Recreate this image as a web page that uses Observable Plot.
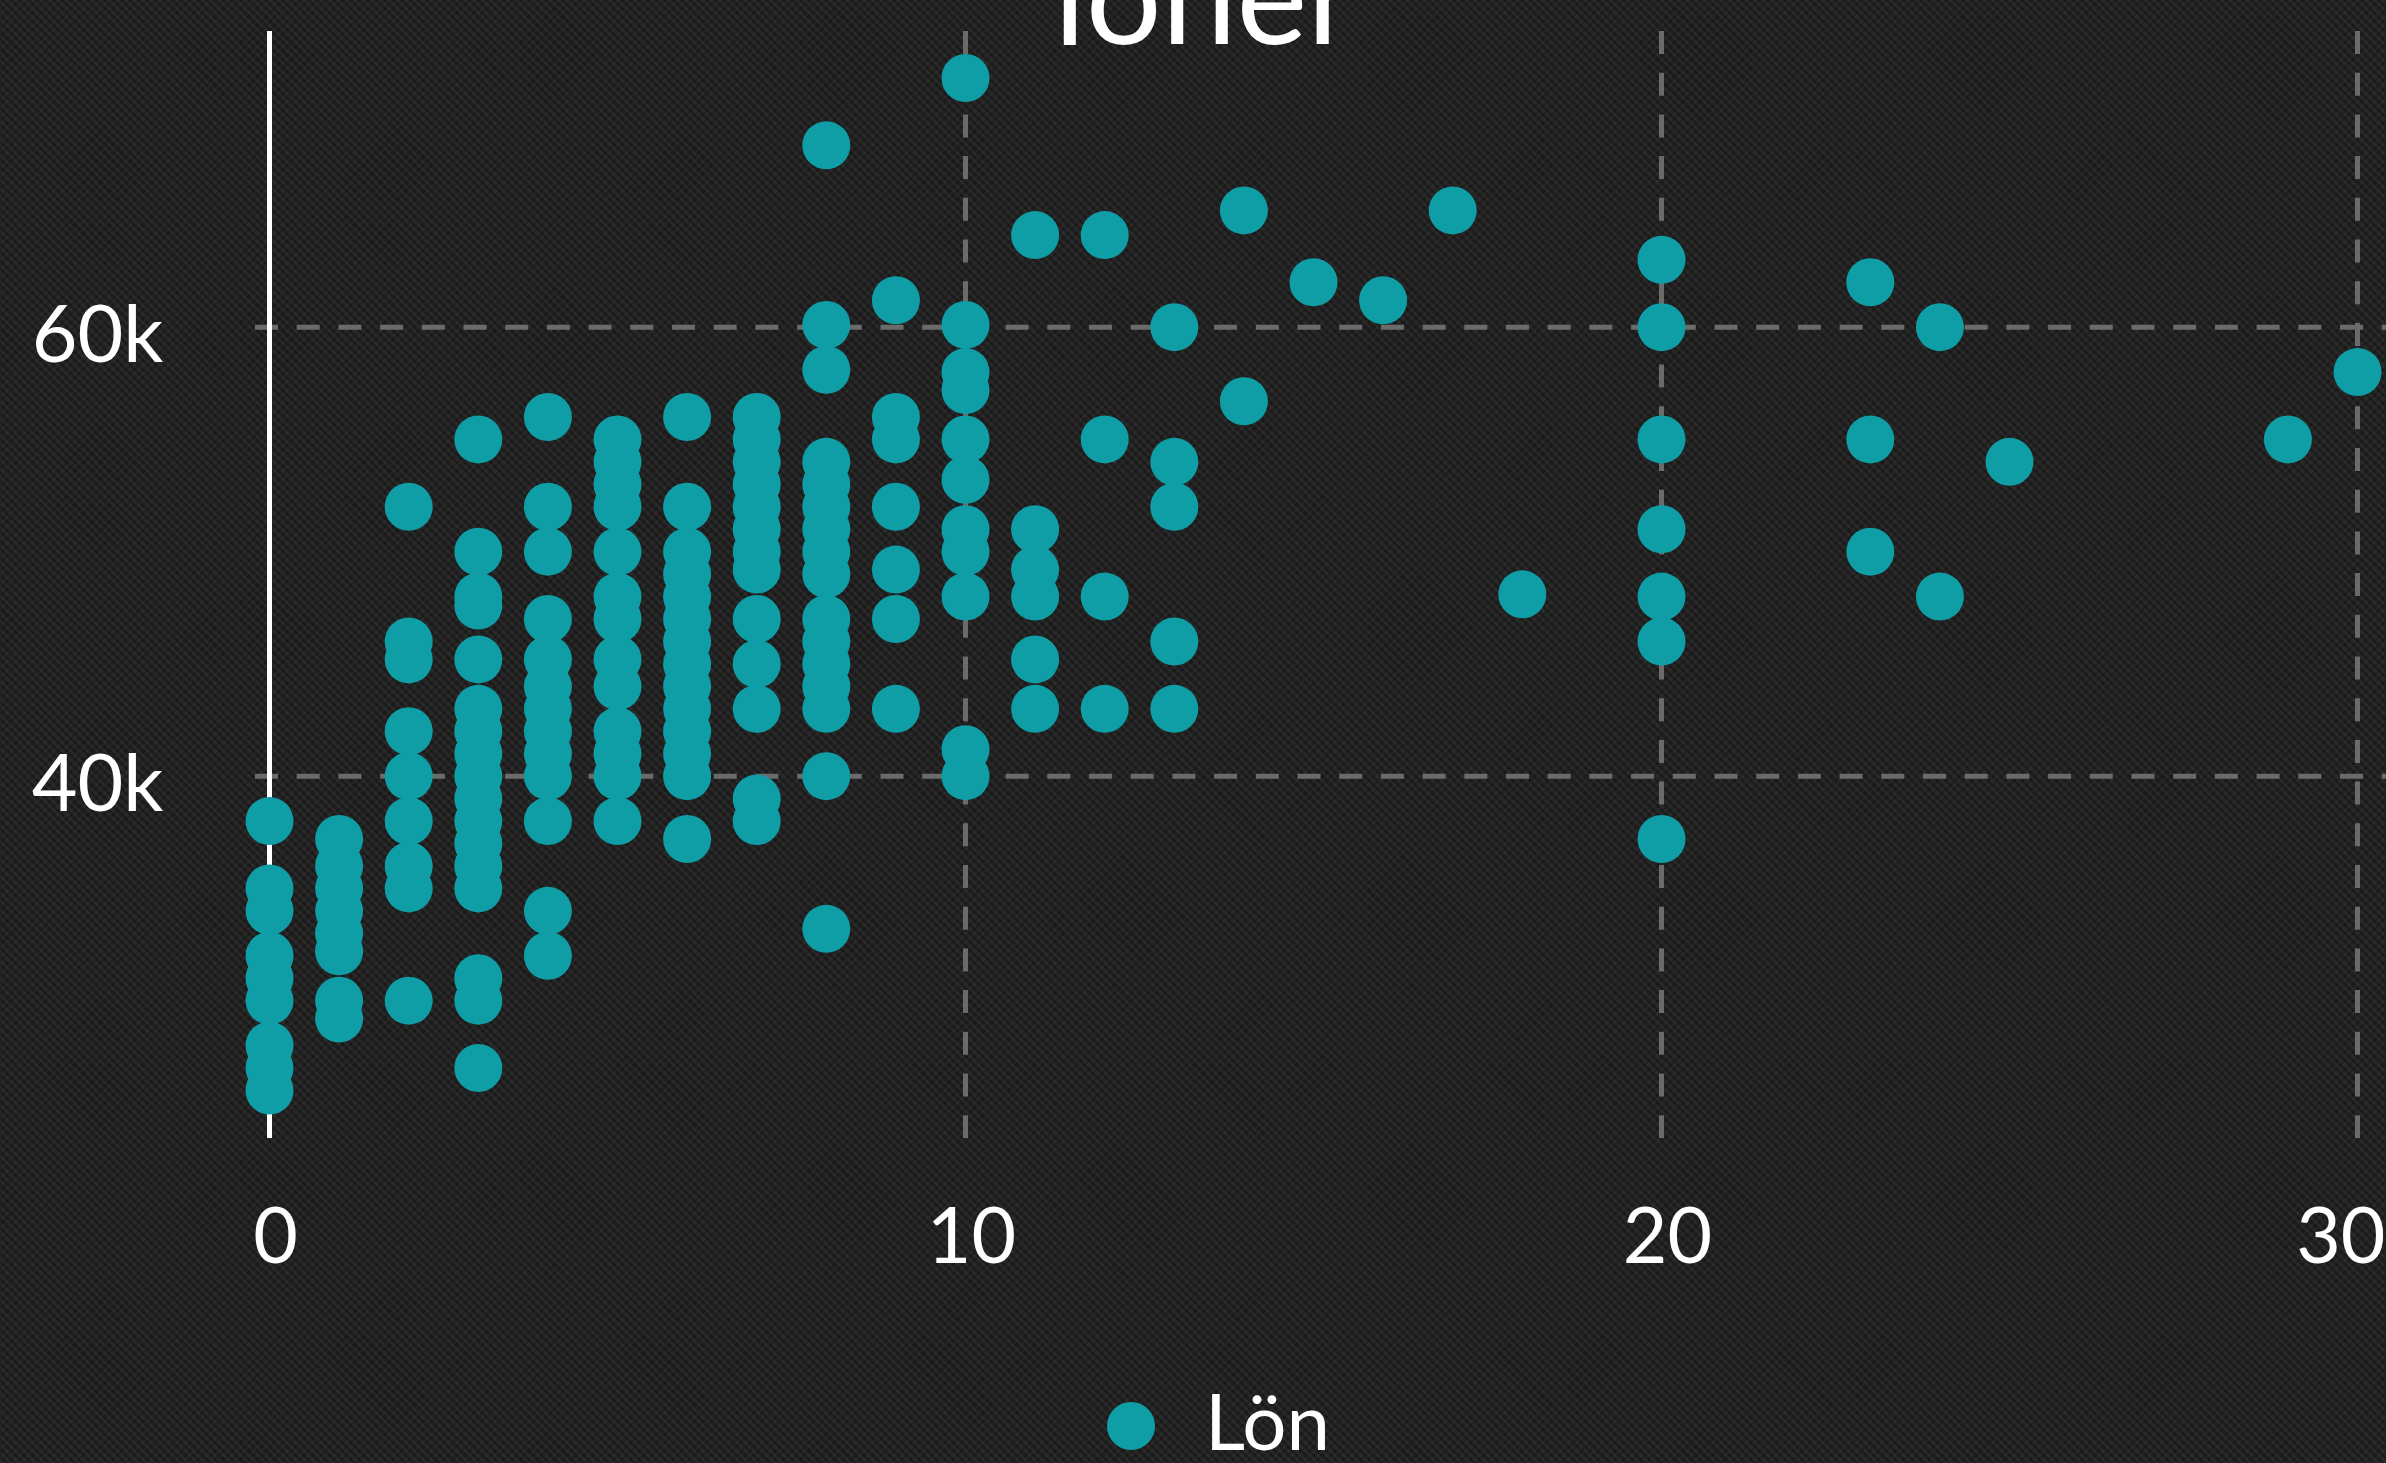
<!DOCTYPE html>
<html>
<head>
<meta charset="utf-8">
<script src="https://cdn.jsdelivr.net/npm/d3@7"></script>
<script src="https://cdn.jsdelivr.net/npm/@observablehq/plot@0.6"></script>
<style>
  html, body { margin: 0; padding: 0; overflow: hidden; }
  body {
    width: 2386px; height: 1463px;
    background-color: #1e1e1e;
    background-image:
      repeating-linear-gradient(45deg, rgba(255,255,255,0.035) 0 3px, rgba(0,0,0,0.07) 3px 6px),
      repeating-linear-gradient(-45deg, rgba(0,0,0,0.08) 0 3px, rgba(255,255,255,0.02) 3px 6px);
    font-family: Lato, sans-serif;
    color: #fff;
  }
  #wrap { position: relative; width: 2386px; height: 1463px; overflow: hidden; }
  #title {
    position: absolute; left: 12px; top: -74px; width: 2386px;
    text-align: center; font-size: 134px; line-height: 134px; font-family: Lato, sans-serif; color: #fff;
    z-index: 2;
  }
  #legend { display: flex; align-items: center; margin-top: 102px; margin-left: 1107px; height: 48px; }
  #legend .sw { width: 48px; height: 48px; border-radius: 50%; display: inline-block; }
  #legend .lab { font-size: 78px; line-height: 48px; margin-left: 50px; position: relative; top: -6px; }
</style>
</head>
<body>
<div id="wrap">
  <div id="title"></div>
  <div id="chart"></div>
  <div id="legend"><span class="sw"></span><span class="lab"></span></div>
</div>
<script>
// ---- data (salary in thousands, grouped by years of experience) ----
const titleText = "löner";
const seriesName = "Lön";
const seriesColor = "#0f9ea6";
const experience = [0, 1, 2, 3, 4, 5, 6, 7, 8, 9, 10, 11, 12, 13, 14, 15, 16, 17, 18, 20, 23, 24, 25, 29, 30];
const salaryK = [
  [38, 35, 34, 32, 31, 30, 28, 27, 26],
  [37.2, 36, 35, 34, 33, 32.2, 30, 29.2],
  [52, 46, 45.2, 42, 40, 38, 36, 35, 30],
  [55, 50, 48, 47.6, 45.2, 43, 42, 41, 40, 39, 38, 37, 36, 35, 31, 30, 27],
  [56, 52, 50, 47, 45.2, 44, 43, 42, 41, 40, 38, 34, 32],
  [55, 54, 53, 52, 50, 48, 47, 45.2, 44, 42, 41, 40, 38],
  [56, 52, 50, 49, 48, 47, 46, 45, 44, 43, 42, 41, 40, 37.2],
  [56, 55, 54, 53, 52, 51, 50, 49.2, 47, 45, 43, 39, 38],
  [68.1, 60.1, 58.1, 54, 53, 52, 51, 50, 49, 47, 46, 45, 44, 43, 40, 33.2],
  [61.2, 56, 55, 52, 49.2, 47, 43],
  [71.1, 60.1, 58, 57.2, 55, 53.2, 51, 50, 48, 41.2, 40],
  [64.1, 51, 49.2, 48, 45.2, 43],
  [64.1, 55, 48, 43],
  [60, 54, 52, 46, 43],
  [65.2, 56.7],
  [62],
  [61.2],
  [65.2],
  [48.1],
  [63, 60, 55, 51, 48, 46, 37.2],
  [62, 55, 50],
  [60, 48],
  [54],
  [55],
  [58]
];
const xTicks = [0, 10, 20];
const xLastTick = [30];
const yTicks = [40000, 60000];

const data = experience.flatMap((e, i) => salaryK[i].map(s => ({years: e, salary: s * 1000})));

document.getElementById("title").textContent = titleText;
document.querySelector("#legend .sw").style.background = seriesColor;
document.querySelector("#legend .lab").textContent = seriesName;

const grid = "#6b6b6b";
const chart = Plot.plot({
  width: 2386,
  height: 1300,
  marginLeft: 269,
  marginRight: 29,
  marginTop: 31,
  marginBottom: 162,
  x: {domain: [0, 30]},
  y: {domain: [23860, 73170]},
  style: {background: "transparent", color: "#fff", fontFamily: "Lato, sans-serif", overflow: "visible"},
  marks: [
    Plot.ruleY(yTicks, {stroke: grid, strokeWidth: 5, strokeDasharray: "23,18.7", insetLeft: -14, insetRight: -29}),
    Plot.ruleX([10, 20, 30], {stroke: grid, strokeWidth: 5, strokeDasharray: "23,18.7"}),
    Plot.ruleX([0], {stroke: "#fff", strokeWidth: 5}),
    Plot.dot(data, {x: "years", y: "salary", r: 24, fill: seriesColor}),
    Plot.axisY(yTicks, {tickSize: 0, tickPadding: 106, tickFormat: d => d / 1000 + "k", fontSize: 79, dy: 10, label: null}),
    Plot.axisX(xTicks, {tickSize: 0, tickPadding: 70, fontSize: 77, dx: 6, label: null}),
    Plot.axisX(xLastTick, {tickSize: 0, tickPadding: 70, fontSize: 77, textAnchor: "end", dx: 28, label: null})
  ]
});
document.getElementById("chart").appendChild(chart);
</script>
</body>
</html>
